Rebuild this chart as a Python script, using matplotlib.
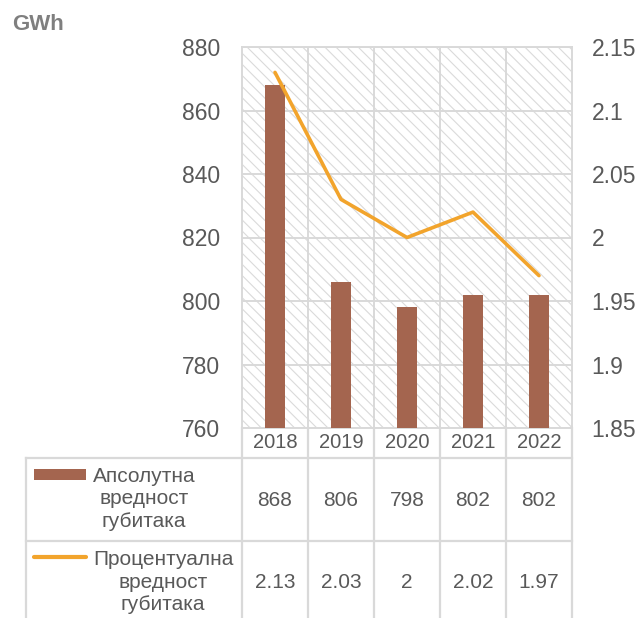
import matplotlib.pyplot as plt
from matplotlib.patches import Rectangle

plt.rcParams['font.family'] = ['Liberation Sans', 'DejaVu Sans']
plt.rcParams['hatch.linewidth'] = 0.8

# Губици електричне енергије по годинама
godine = ['2018', '2019', '2020', '2021', '2022']
apsolutno = [868, 806, 798, 802, 802]          # GWh
procenat = [2.13, 2.03, 2.00, 2.02, 1.97]      # %
naziv_aps = 'Апсолутна\nвредност\nгубитака'
naziv_proc = 'Процентуална\nвредност\nгубитака'

braon = '#a4654f'
narandz = '#f2a42c'
siva = '#d9d9d9'
tekst = '#595959'

W, H = 641, 618
fig = plt.figure(figsize=(W / 100, H / 100), dpi=100)

# granice u pikselima
pl, pr, pt, pb = 242, 572, 47, 428
tl = 26
col = (pr - pl) / len(godine)

ax = fig.add_axes([pl / W, 1 - pb / H, (pr - pl) / W, (pb - pt) / H])
x = list(range(len(godine)))

ax.add_patch(Rectangle((0, 0), 1, 1, transform=ax.transAxes, facecolor='white',
                       edgecolor='#dadada', linewidth=0, hatch='\\\\\\', zorder=0))
ax.bar(x, apsolutno, width=0.3, color=braon, zorder=3)
ax.set_xlim(-0.5, len(godine) - 0.5)
ax.set_ylim(760, 880)
ax.set_yticks(range(760, 881, 20))
ax.set_xticks([])
ax.yaxis.grid(True, color=siva, linewidth=1.4, zorder=1)
for b in range(1, len(godine)):
    ax.axvline(b - 0.5, color=siva, linewidth=1.4, zorder=1)
for s in ax.spines.values():
    s.set_color(siva)
    s.set_linewidth(1.4)
ax.set_axisbelow(True)
ax.tick_params(axis='y', length=0, pad=16, labelsize=16.5, labelcolor=tekst)

ax2 = ax.twinx()
ax2.plot(x, procenat, color=narandz, linewidth=2.6, solid_capstyle='round', zorder=4)
ax2.set_ylim(1.85, 2.15)
ax2.set_yticks([1.85, 1.9, 1.95, 2.0, 2.05, 2.1, 2.15])
ax2.set_yticklabels([f'{v:g}' for v in ax2.get_yticks()])
ax2.tick_params(axis='y', length=0, pad=14, labelsize=16.5, labelcolor=tekst)
for s in ax2.spines.values():
    s.set_visible(False)

# tabela sa podacima ispod grafika
tab = fig.add_axes([tl / W, 0, (pr - tl) / W, (H - pb) / H])
tab.set_xlim(-0.5 - (pl - tl) / col, len(godine) - 0.5)
tab.set_ylim(H - pb, 0)
tab.axis('off')


def px(v):
    return -0.5 + (v - pl) / col


red1, red2 = 30, 113
for b in range(len(godine) + 1):
    tab.plot([b - 0.5, b - 0.5], [0, H - pb], color=siva, linewidth=1.6, clip_on=False)
tab.plot([px(tl), px(tl)], [red1, H - pb], color=siva, linewidth=1.6, clip_on=False)
for r in (red1, red2):
    tab.plot([px(tl), len(godine) - 0.5], [r, r], color=siva, linewidth=1.6, clip_on=False)

for i, g in enumerate(godine):
    tab.text(i, 15, g, ha='center', va='center', fontsize=14.5, color=tekst)
    tab.text(i, 72, f'{apsolutno[i]:g}', ha='center', va='center', fontsize=15, color=tekst)
    tab.text(i, 154, f'{procenat[i]:g}', ha='center', va='center', fontsize=15, color=tekst)

tab.add_patch(Rectangle((px(34), 41), px(86) - px(34), 11, facecolor=braon,
                        edgecolor='none', clip_on=False))
tab.plot([px(34), px(86)], [129, 129], color=narandz, linewidth=3,
         solid_capstyle='round', clip_on=False)
tab.text(px(144), 71, naziv_aps, ha='center', va='center', fontsize=15,
         color=tekst, linespacing=1.25, multialignment='center')
tab.text(px(163), 154, naziv_proc, ha='center', va='center', fontsize=15,
         color=tekst, linespacing=1.25, multialignment='center')

fig.text(12 / W, 1 - 25 / H, 'GWh', ha='left', va='center', fontsize=16,
         fontweight='bold', color='#7f7f7f')

fig.savefig('out.png', dpi=100)
